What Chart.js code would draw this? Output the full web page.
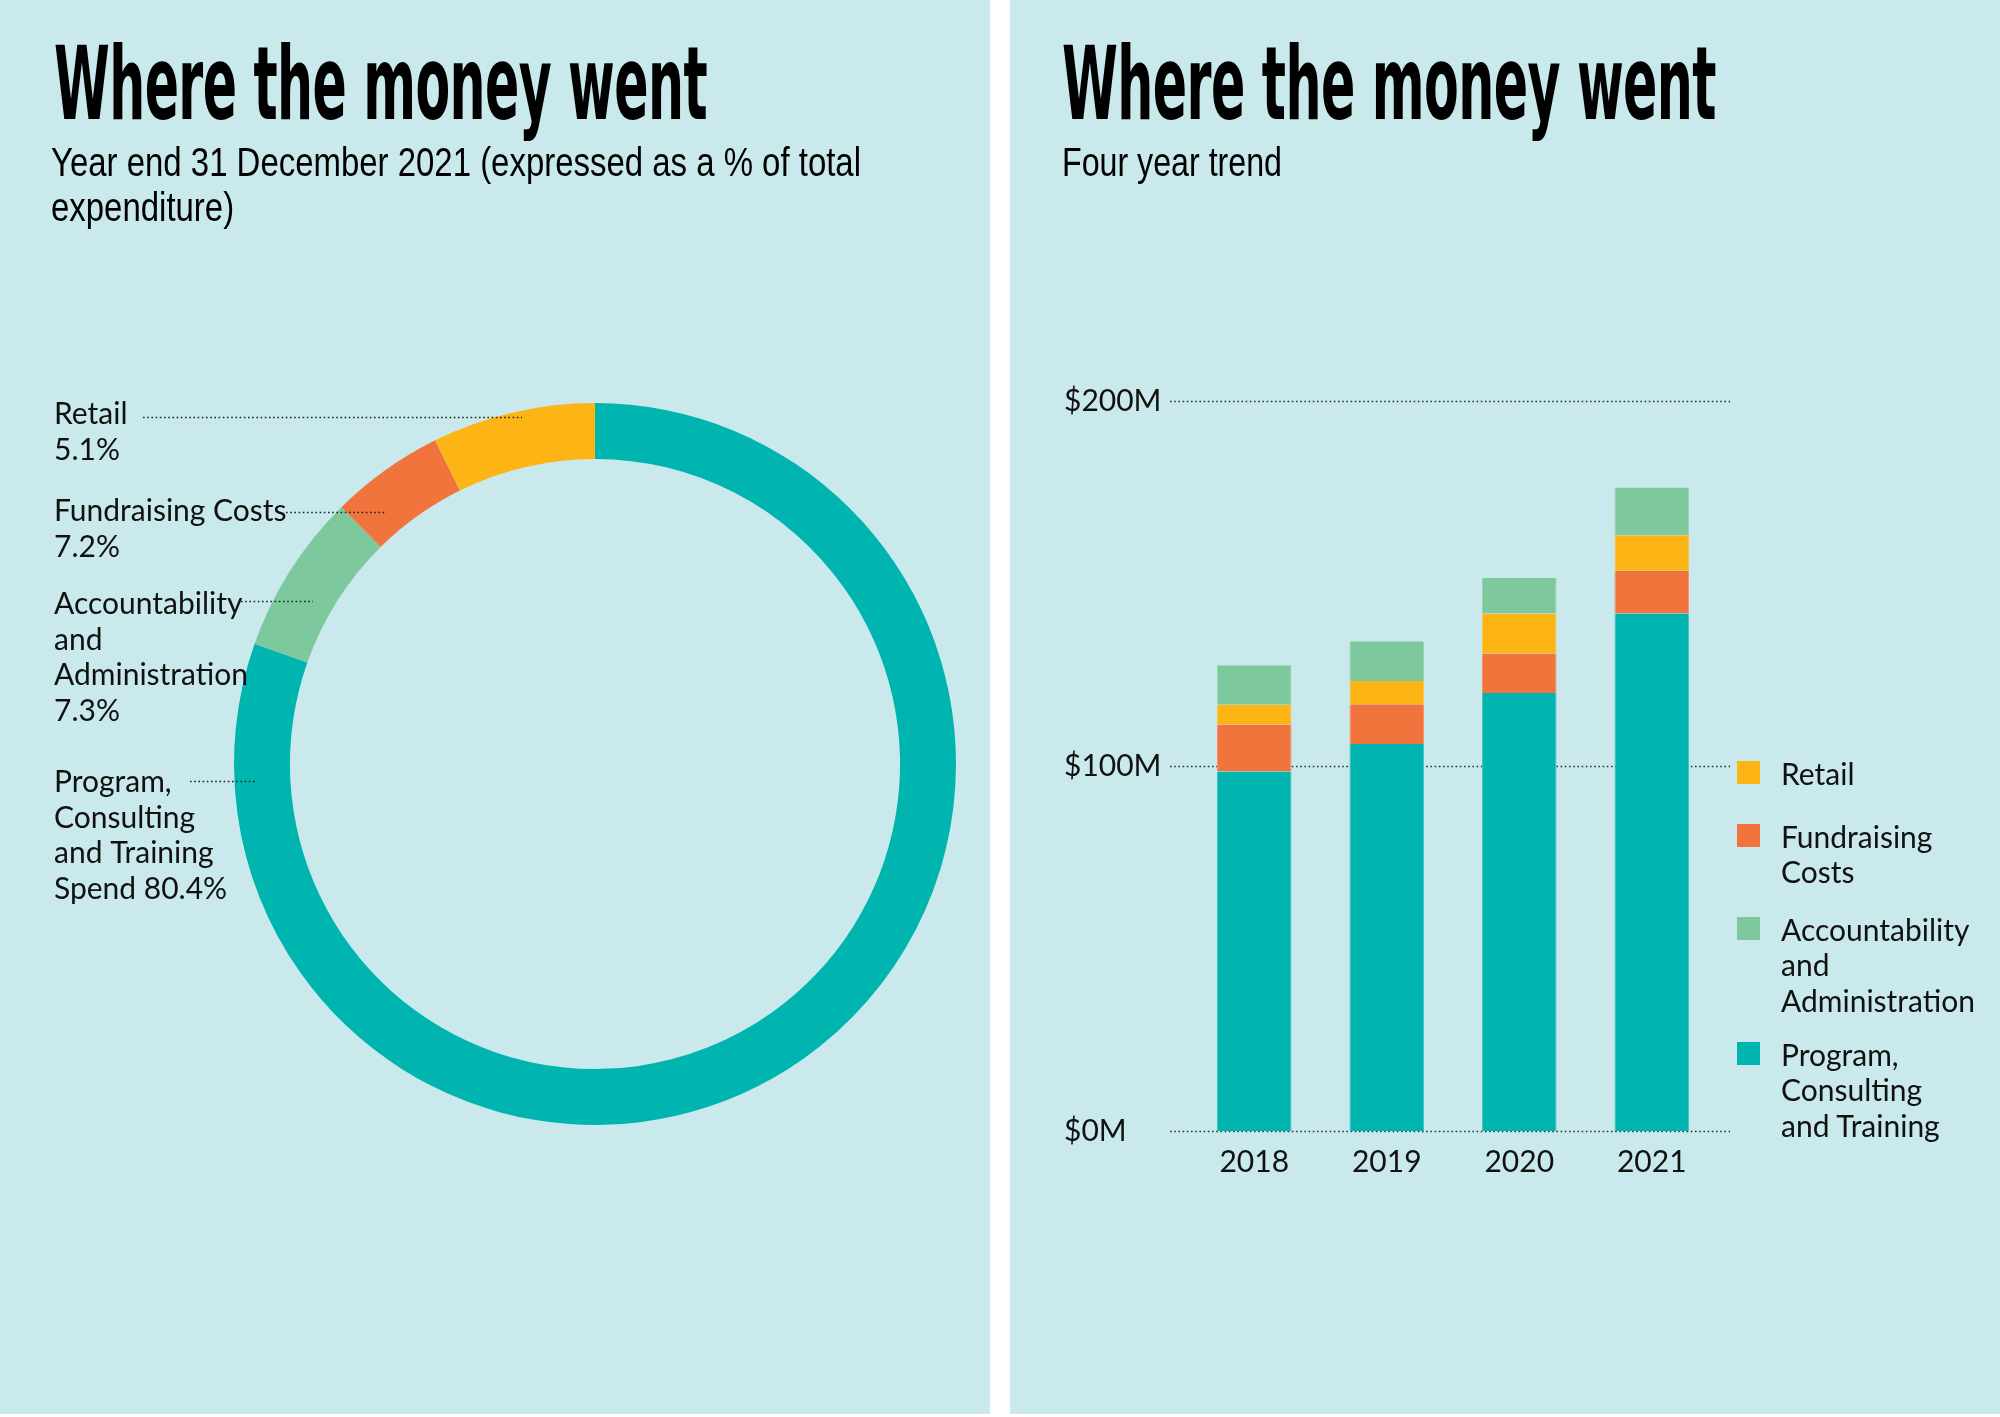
<!DOCTYPE html>
<html>
<head>
<meta charset="utf-8">
<script src="https://cdn.jsdelivr.net/npm/chart.js@4.4.1/dist/chart.umd.min.js"></script>
<style>
  body { margin:0; width:2000px; height:1417px; background:#fff; position:relative; overflow:hidden; }
  .panel { position:absolute; top:0; height:1414px; width:990px; background:#cae9ec; overflow:hidden; }
  .title { position:absolute; font-family:"DejaVu Sans Condensed", "DejaVu Sans", sans-serif; font-stretch:condensed; font-weight:bold; font-size:101.5px; line-height:1; white-space:nowrap; transform-origin:0 0; color:#000; letter-spacing:-1px; }
  .sub { position:absolute; font-family:"Liberation Sans", sans-serif; font-size:41px; line-height:45px; white-space:nowrap; transform-origin:0 0; color:#000; }
  canvas { position:absolute; top:0; left:0; }
  .item { position:absolute; left:727px; font-family:Lato; font-size:30px; line-height:35.7px; color:#111; }
  .item span.box { position:absolute; left:0; top:5px; width:23px; height:23px; }
  .item span.txt { position:absolute; left:44px; top:0; white-space:pre; }
</style>
</head>
<body>
<div class="panel" id="left" style="left:0">
  <canvas id="donut" width="990" height="1414"></canvas>
  <div class="title" data-w="653" style="left:54px; top:34px">Where the money went</div>
  <div class="sub" data-w="810" style="left:51px; top:140px">Year end 31 December 2021 (expressed as a % of total<br>expenditure)</div>
</div>
<div class="panel" id="right" style="left:1010px">
  <canvas id="bars" width="990" height="1414"></canvas>
  <div class="title" data-w="654" style="left:52px; top:34px">Where the money went</div>
  <div class="sub" data-w="220" style="left:52px; top:140px">Four year trend</div>
</div>

<script>
// ---- data: doughnut (2021 split) ----
// slice sizes as drawn, clockwise from 12 o'clock
const donutNames = ['Program, Consulting and Training', 'Accountability and Administration', 'Fundraising Costs', 'Retail'];
const donutValues = [80.4, 7.2, 5.1, 7.3];
const donutColors = ['#00b5b0', '#7ec89d', '#f2743d', '#fdb516'];

// printed notes on the left of the ring (text as in the picture)
const noteText = ['Retail\n5.1%', 'Fundraising Costs\n7.2%', 'Accountability\nand\nAdministration\n7.3%', 'Program,\nConsulting\nand Training\nSpend 80.4%'];

// ---- data: stacked bars (four year trend, $M) ----
const years = ['2018', '2019', '2020', '2021'];
const programSpend = [98.5, 106.0, 120.0, 141.8];
const fundraisingCosts = [12.9, 10.9, 10.8, 11.7];
const retailSpend = [5.4, 6.4, 11.0, 9.7];
const accountability = [10.8, 10.9, 9.7, 13.1];
const yTicks = [0, 100, 200];

const seriesNames = ['Program,\nConsulting\nand Training', 'Fundraising\nCosts', 'Retail', 'Accountability\nand\nAdministration'];
const seriesColors = ['#00b5b0', '#f2743d', '#fdb516', '#7ec89d'];
const seriesEdges = ['#40c4c0', '#f49068', '#fdc44c', '#98d3b0'];
const legendOrder = [2, 1, 3, 0];

// ---- layout only ----
const noteX = 54;
const noteBaselines = [424, 521, 614, 792];
const noteLineH = 35.7;
const leaders = [[143, 522, 417], [286, 386, 512], [241, 313, 601], [190, 257, 781]];
const legendTops = [755.5, 818.5, 911.5, 1036.5];

// condensed headline text: squeeze to the picture's width
document.querySelectorAll('.title, .sub').forEach(el => {
  const w = el.getBoundingClientRect().width;
  el.style.transform = 'scaleX(' + (el.dataset.w / w) + ')';
});

// notes + dotted leaders for the ring
const donutNotes = {
  id: 'donutNotes',
  afterDraw(chart) {
    const ctx = chart.ctx;
    ctx.save();
    ctx.fillStyle = '#111';
    ctx.font = '30px Lato';
    ctx.textAlign = 'left';
    ctx.textBaseline = 'alphabetic';
    noteText.forEach((t, i) => {
      t.split('\n').forEach((line, j) => {
        ctx.fillText(line, noteX, noteBaselines[i] + j * noteLineH);
      });
    });
    ctx.strokeStyle = '#222';
    ctx.lineWidth = 1.6;
    ctx.setLineDash([1.6, 2.6]);
    leaders.forEach(l => {
      ctx.beginPath();
      ctx.moveTo(l[0], l[2] + 0.5);
      ctx.lineTo(l[1], l[2] + 0.5);
      ctx.stroke();
    });
    ctx.restore();
  }
};

new Chart(document.getElementById('donut'), {
  type: 'doughnut',
  data: {
    labels: donutNames,
    datasets: [{
      data: donutValues,
      backgroundColor: donutColors,
      borderWidth: 0
    }]
  },
  options: {
    responsive: false,
    animation: false,
    cutout: '84.5%',
    layout: { padding: { left: 234, top: 403, right: 34, bottom: 289 } },
    plugins: { legend: { display: false }, tooltip: { enabled: false } }
  },
  plugins: [donutNotes]
});

// dotted grid lines, a little wider than the plot
const dottedGrid = {
  id: 'dottedGrid',
  beforeDatasetsDraw(chart) {
    const { ctx, chartArea, scales: { y } } = chart;
    ctx.save();
    ctx.strokeStyle = '#333';
    ctx.lineWidth = 1.6;
    ctx.setLineDash([1.6, 2.6]);
    y.ticks.forEach(t => {
      const py = Math.round(y.getPixelForValue(t.value)) + 0.5;
      ctx.beginPath();
      ctx.moveTo(chartArea.left - 18, py);
      ctx.lineTo(chartArea.right + 12, py);
      ctx.stroke();
    });
    ctx.restore();
  }
};

const seriesData = [programSpend, fundraisingCosts, retailSpend, accountability];
const barChart = new Chart(document.getElementById('bars'), {
  type: 'bar',
  data: {
    labels: years,
    datasets: seriesData.map((d, i) => ({
      label: seriesNames[i],
      data: d,
      backgroundColor: seriesColors[i],
      borderColor: seriesEdges[i],
      borderWidth: { left: 1, right: 1, top: 0, bottom: 0 },
      borderSkipped: false,
      barPercentage: 0.563,
      categoryPercentage: 1
    }))
  },
  options: {
    responsive: false,
    animation: false,
    layout: { padding: { left: 54, top: 401, right: 282, bottom: 223 } },
    plugins: { legend: { display: false }, tooltip: { enabled: false } },
    scales: {
      x: {
        stacked: true,
        grid: { display: false },
        border: { display: false },
        ticks: { color: '#111', font: { family: 'Lato', size: 30 }, padding: 5, maxRotation: 0 },
        afterFit: s => { s.height = 60; }
      },
      y: {
        stacked: true,
        min: 0,
        max: 200,
        grid: { display: false },
        border: { display: false },
        afterBuildTicks: s => { s.ticks = yTicks.map(v => ({ value: v })); },
        ticks: {
          color: '#111',
          font: { family: 'Lato', size: 30 },
          crossAlign: 'far',
          callback: v => '$' + v + 'M'
        },
        afterFit: s => { s.width = 124; }
      }
    }
  },
  plugins: [dottedGrid]
});

// legend, built from the bar datasets
const right = document.getElementById('right');
legendOrder.forEach((k, n) => {
  const ds = barChart.data.datasets[k];
  const item = document.createElement('div');
  item.className = 'item';
  item.style.top = legendTops[n] + 'px';
  item.innerHTML = '<span class="box" style="background:' + ds.backgroundColor + '"></span><span class="txt"></span>';
  item.querySelector('.txt').textContent = ds.label;
  right.appendChild(item);
});
</script>
</body>
</html>
